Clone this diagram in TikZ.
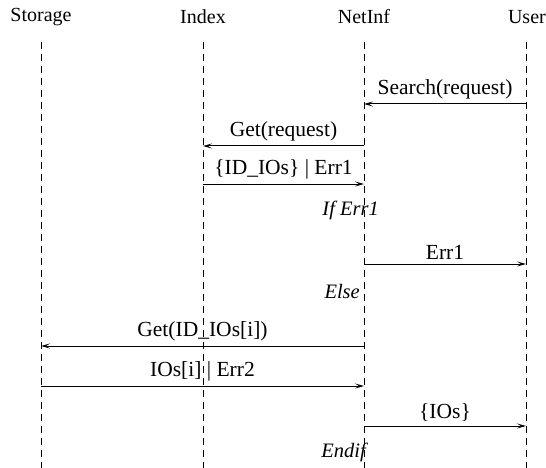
\documentclass[tikz,border=0pt]{standalone}
\usepackage{fontspec}
\setmainfont{Liberation Serif}
\usetikzlibrary{arrows.meta}
\begin{document}
\begin{tikzpicture}[x=1pt,y=-1pt,
  lifeline/.style={dash pattern=on 7pt off 5pt, line width=0.9pt},
  msg/.style={line width=1pt, -{Stealth[length=9pt,width=5pt,inset=4pt]}},
  txt/.style={font=\fontsize{20}{24}\selectfont, inner sep=0pt},
  mtxt/.style={font=\fontsize{21.5}{25}\selectfont, inner sep=0pt},
  cond/.style={font=\fontsize{20.5}{24}\selectfont\itshape, inner sep=0pt, anchor=east}]
\useasboundingbox (0,0) rectangle (546,468);
% headers
\node[txt] (storage) at (41,17) {Storage};
\node[txt] (index) at (203,17) {Index};
\node[txt] (netinf) at (364,17) {NetInf};
\node[txt, anchor=east] (user) at (546,17) {User};
% lifeline ends
\coordinate (sTop) at (41,42);  \coordinate (sBot) at (41,468);
\coordinate (iTop) at (203,42); \coordinate (iBot) at (203,468);
\coordinate (nTop) at (364,42); \coordinate (nBot) at (364,468);
\coordinate (uTop) at (526,42); \coordinate (uBot) at (526,468);
\draw[lifeline] (sTop) -- (sBot);
\draw[lifeline] (iTop) -- (iBot);
\draw[lifeline] (nTop) -- (nBot);
\draw[lifeline] (uTop) -- (uBot);
% message points
\coordinate (u1) at (526,104); \coordinate (n1) at (364,104);
\coordinate (n2) at (364,146); \coordinate (i2) at (203,146);
\coordinate (i3) at (203,184); \coordinate (n3) at (364,184);
\coordinate (n4) at (364,264); \coordinate (u4) at (526,264);
\coordinate (n5) at (364,346); \coordinate (s5) at (41,346);
\coordinate (s6) at (41,386);  \coordinate (n6) at (364,386);
\coordinate (n7) at (364,426); \coordinate (u7) at (526,426);
% messages
\draw[msg] (u1) -- node[mtxt, above=4pt] (m1) {Search(request)} (n1);
\draw[msg] (n2) -- node[mtxt, above=4pt] (m2) {Get(request)} (i2);
\draw[msg] (i3) -- node[mtxt, above=4pt] (m3) {\{ID\_IOs\} | Err1} (n3);
\draw[msg] (n4) -- node[mtxt, above=4pt] (m4) {Err1} (u4);
\draw[msg] (n5) -- node[mtxt, above=4pt] (m5) {Get(ID\_IOs[i])} (s5);
\draw[msg] (s6) -- node[mtxt, above=4pt] (m6) {IOs[i] | Err2} (n6);
\draw[msg] (n7) -- node[mtxt, above=4pt] (m7) {\{IOs\}} (u7);
% conditions
\node[cond] (c1) at (379,210) {If Err1};
\node[cond] (c2) at (360,291) {Else};
\node[cond] (c3) at (366,452) {Endif};
\end{tikzpicture}
\end{document}
